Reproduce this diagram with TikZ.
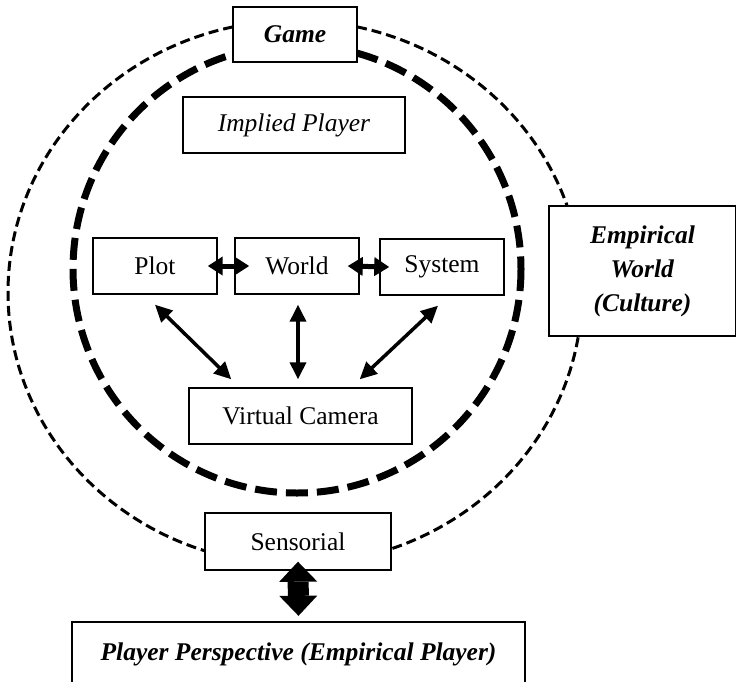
\documentclass[tikz,border=0pt]{standalone}
\usepackage{fontspec}
\setmainfont{Liberation Serif}
\usetikzlibrary{arrows.meta}

\tikzset{
    box/.style={draw, fill=white, line width=1.4pt, inner sep=0pt, align=center,
        font=\fontsize{25.5}{34}\selectfont},
    link/.style={line width=3.5pt,
        {Triangle[length=17pt,width=16pt]}-{Triangle[length=17pt,width=16pt]}},
    hlink/.style={line width=5pt,
        {Triangle[length=15pt,width=18pt]}-{Triangle[length=15pt,width=18pt]}},
    bigarrow/.style={line width=21pt,
        {Triangle[length=20pt,width=38pt,line width=0pt]}-{Triangle[length=20pt,width=38pt,line width=0pt]}},
}

\begin{document}
\begin{tikzpicture}[x=1pt,y=-1pt]
    \useasboundingbox (0,0) rectangle (736,681);

    % outer circle (game)
    \draw[line width=3pt, dash pattern=on 10pt off 5pt] (295,292.5) ellipse [x radius=287, y radius=272];

    % inner circle
    \draw[line width=7pt, dash pattern=on 22pt off 9pt] (297,269) circle [radius=224];

    % boxes
    \node[box, minimum width=124pt, minimum height=55pt] (game) at (295,34.5) {\textbf{\textit{Game}}};
    \node[box, minimum width=222pt, minimum height=56pt] (implied) at (294,125) {\textit{Implied Player}};
    \node[box, minimum width=124pt, minimum height=56pt] (plot) at (155,266) {Plot};
    \node[box, minimum width=124pt, minimum height=56pt] (world) at (297,266) {World};
    \node[box, minimum width=124pt, minimum height=56pt] (system) at (442,267) {System};
    \node[box, minimum width=223pt, minimum height=56pt] (camera) at (300.5,416) {Virtual Camera};
    \node[box, minimum width=186pt, minimum height=57pt] (sensorial) at (298,541.5) {Sensorial};
    \node[box, minimum width=187pt, minimum height=130pt] (empirical) at (642.5,271)
        {\textbf{\textit{Empirical}}\\\textbf{\textit{World}}\\\textbf{\textit{(Culture)}}};
    \node[box, minimum width=453pt, minimum height=64pt] (player) at (298.5,654)
        {\textbf{\textit{Player Perspective (Empirical Player)}}};

    % links
    \draw[hlink] ([xshift=-10pt]plot.east) -- ([xshift=15pt]world.west);
    \draw[hlink] ([xshift=-12pt]world.east) -- ([xshift=10pt]system.west);
    \draw[link] ([yshift=-10pt]plot.south) -- ([xshift=43pt,yshift=8pt]camera.north west);
    \draw[link] ([xshift=1pt,yshift=-10pt]world.south) -- ([xshift=1pt,yshift=8pt]world.south |- camera.north);
    \draw[link] ([xshift=-4pt,yshift=-10pt]system.south) -- ([xshift=-53pt,yshift=8pt]camera.north east);

    % sensorial <-> player
    \draw[bigarrow] ([yshift=9pt]sensorial.south) -- ([yshift=5.5pt]player.north);
\end{tikzpicture}
\end{document}
